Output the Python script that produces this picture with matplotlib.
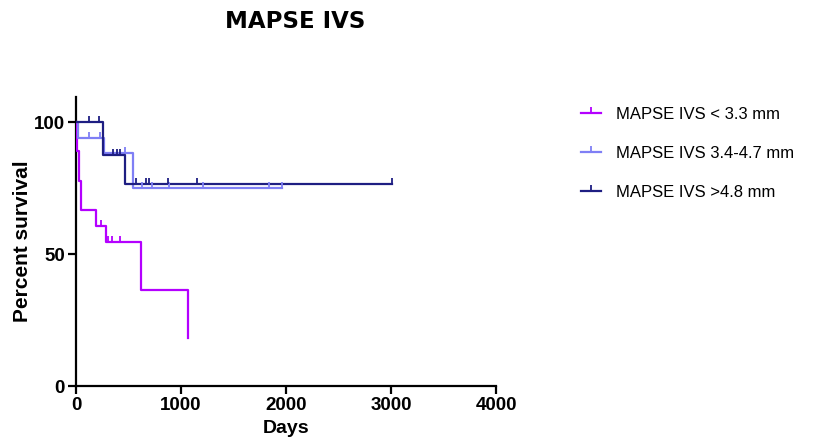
import numpy as np
import matplotlib
matplotlib.use("Agg")
import matplotlib.pyplot as plt
from matplotlib.ticker import MultipleLocator

# Kaplan-Meier steps (days, percent survival)
low_times = [0, 10, 25, 45, 190, 287, 615, 1068]
low_surv = [100, 88.9, 77.8, 66.7, 60.6, 54.5, 36.4, 18.2]
low_end = 1068
low_censor = [239, 309, 341, 421]

mid_times = [0, 20, 265, 540]
mid_surv = [100, 94.1, 88.2, 75.0]
mid_end = 1960
mid_censor = [127, 230, 469, 628, 724, 883, 1212, 1840, 1960]

high_times = [0, 261, 469]
high_surv = [100, 87.5, 76.6]
high_end = 3010
high_censor = [127, 223, 354, 389, 421, 574, 670, 699, 877, 1148, 3010]

labels = ["MAPSE IVS < 3.3 mm", "MAPSE IVS 3.4-4.7 mm", "MAPSE IVS >4.8 mm"]
colors = ["#B400FF", "#7F7FF5", "#1E1E82"]

groups = [
    (low_times, low_surv, low_end, low_censor),
    (mid_times, mid_surv, mid_end, mid_censor),
    (high_times, high_surv, high_end, high_censor),
]

fig = plt.figure(figsize=(8.4, 4.48), dpi=100)
ax = fig.add_axes([76 / 840, 62 / 448, 420 / 840, 289 / 448])

for (t, s, end, cens), lab, col in zip(groups, labels, colors):
    tt = list(t) + [end]
    ss = list(s) + [s[-1]]
    ax.step(tt, ss, where="post", color=col, lw=1.6, zorder=3)
    # censor marks sit on the curve value at that time
    idx = np.searchsorted(t, cens, side="right") - 1
    cy = np.array(s)[idx]
    ax.plot(cens, cy, linestyle="none", marker=2, markersize=4,
            markeredgewidth=1.3, color=col, zorder=4)
    ax.plot([], [], color=col, lw=1.6, marker=2, markersize=4,
            markeredgewidth=1.3, label=lab)

ax.set_xlim(0, 4000)
ax.set_ylim(0, 109.5)
ax.xaxis.set_major_locator(MultipleLocator(1000))
ax.set_yticks([0, 50, 100])

for sp in ["top", "right"]:
    ax.spines[sp].set_visible(False)
for sp in ["left", "bottom"]:
    ax.spines[sp].set_linewidth(1.6)
    ax.spines[sp].set_color("black")

ax.tick_params(direction="out", length=6, width=1.6, pad=2)
for lab in ax.get_xticklabels() + ax.get_yticklabels():
    lab.set_fontfamily("Liberation Sans")
    lab.set_fontweight("bold")
    lab.set_fontsize(13.5)

ax.set_xlabel("Days", family="Liberation Sans", weight="bold", size=14, labelpad=4)
ax.set_ylabel("Percent survival", family="Liberation Sans", weight="bold",
              size=15, labelpad=1)

fig.text(295 / 840, 1 - 22 / 448, "MAPSE IVS", ha="center", va="center",
         family="DejaVu Sans", weight="bold", size=16.5)

leg = ax.legend(loc="upper left", bbox_to_anchor=(566 / 840, 1 - 92 / 448),
                bbox_transform=fig.transFigure, frameon=False,
                prop=dict(family="Liberation Sans", size=12),
                handlelength=1.2, handletextpad=0.9, labelspacing=1.45)

fig.savefig("out.png", dpi=100, facecolor="white")
